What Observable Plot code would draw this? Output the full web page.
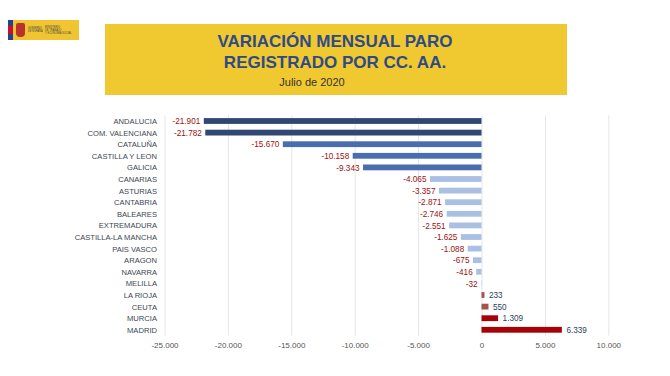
<!DOCTYPE html>
<html>
<head>
<meta charset="utf-8">
<script src="https://cdn.jsdelivr.net/npm/d3@7"></script>
<script src="https://cdn.jsdelivr.net/npm/@observablehq/plot@0.6"></script>
<style>
  html, body { margin: 0; padding: 0; background: #fff; }
  #wrap { position: relative; width: 670px; height: 376px; overflow: hidden; font-family: "Liberation Sans", Arial, sans-serif; }
  #logo { position: absolute; left: 8px; top: 20px; width: 71px; height: 20px; background: #f1c531; }
  #logo .stripe { position: absolute; left: 0; top: 0; width: 5px; height: 20px; background: linear-gradient(#2b3f8f 0 30%, #c8102e 30% 70%, #2b3f8f 70% 100%); }
  #logo .arms { position: absolute; left: 8px; top: 3px; width: 9px; height: 14px; background: #b8322e; border-radius: 2px 2px 4px 4px; }
  #logo .t { position: absolute; font-size: 2.6px; line-height: 3px; color: #444; }
  #header { position: absolute; left: 105px; top: 24px; width: 462px; height: 71px; background: #f0c82f; }
  #header .l { position: absolute; width: 100%; text-align: center; white-space: nowrap; }
  #plot { position: absolute; left: 0; top: 108px; }
</style>
</head>
<body>
<div id="wrap">
  <div id="logo"><div class="stripe"></div><div class="arms"></div>
    <div class="t" style="left:20px;top:7px">GOBIERNO<br>DE ESPAÑA</div>
    <div class="t" style="left:37px;top:6px">MINISTERIO<br>DE TRABAJO<br>Y ECONOMÍA SOCIAL</div>
  </div>
  <div id="header">
    <div class="l" style="top:8px;left:-1px;font-weight:bold;font-size:17px;color:#2e4b88">VARIACIÓN MENSUAL PARO</div>
    <div class="l" style="top:29px;left:-1px;font-weight:bold;font-size:17px;color:#2e4b88">REGISTRADO POR CC. AA.</div>
    <div class="l" style="top:52px;left:-24px;font-size:11px;color:#333">Julio de 2020</div>
  </div>
  <div id="plot"></div>
</div>
<script>
const regions = ["ANDALUCIA","COM. VALENCIANA","CATALUÑA","CASTILLA Y LEON","GALICIA","CANARIAS","ASTURIAS","CANTABRIA","BALEARES","EXTREMADURA","CASTILLA-LA MANCHA","PAIS VASCO","ARAGON","NAVARRA","MELILLA","LA RIOJA","CEUTA","MURCIA","MADRID"];
const values = [-21901,-21782,-15670,-10158,-9343,-4065,-3357,-2871,-2746,-2551,-1625,-1088,-675,-416,-32,233,550,1309,6339];
const groups = ["g1","g1","g2","g2","g2","g3","g3","g3","g3","g3","g3","g3","g3","g3","g3","g4","g4","g5","g5"];
const xTicks = [-25000,-20000,-15000,-10000,-5000,0,5000,10000];

const groupDomain = ["g1","g2","g3","g4","g5"];
const groupColors = ["#2f4772","#4a6db0","#a9c0e4","#a6524b","#a60308"];

const data = regions.map((r, i) => ({region: r, value: values[i], group: groups[i]}));
const es = d3.formatLocale({decimal: ",", thousands: ".", grouping: [3], currency: ["", "€"], minus: "-"});
const fmt = es.format(",d");

const chart = Plot.plot({
  width: 670,
  height: 256,
  marginLeft: 164.5,
  marginRight: 61.7,
  marginTop: 7.2,
  marginBottom: 28.4,
  style: {fontFamily: "'Liberation Sans', Arial, sans-serif", background: "transparent"},
  x: {domain: [-25000, 10000], ticks: xTicks, tickFormat: fmt},
  y: {domain: regions, paddingInner: 0.5, paddingOuter: 0.25, round: false},
  color: {domain: groupDomain, range: groupColors},
  marks: [
    Plot.gridX(xTicks, {stroke: "#e6e6e6", strokeOpacity: 1}),
    Plot.barX(data, {x: "value", y: "region", fill: "group"}),
    Plot.text(data.filter(d => d.value < 0), {x: "value", y: "region", text: d => fmt(d.value), textAnchor: "end", dx: -4, fill: "#9b1010", fontSize: 8.2}),
    Plot.text(data.filter(d => d.value >= 0), {x: "value", y: "region", text: d => fmt(d.value), textAnchor: "start", dx: 4, fill: "#2a3f5e", fontSize: 8.2}),
    Plot.axisY({tickSize: 0, tickPadding: 8, fontSize: 7.6, color: "#3c4652", label: null}),
    Plot.axisX(xTicks, {tickSize: 0, tickPadding: 6, fontSize: 8, color: "#555", label: null, tickFormat: fmt})
  ]
});
document.getElementById("plot").appendChild(chart);
</script>
</body>
</html>
